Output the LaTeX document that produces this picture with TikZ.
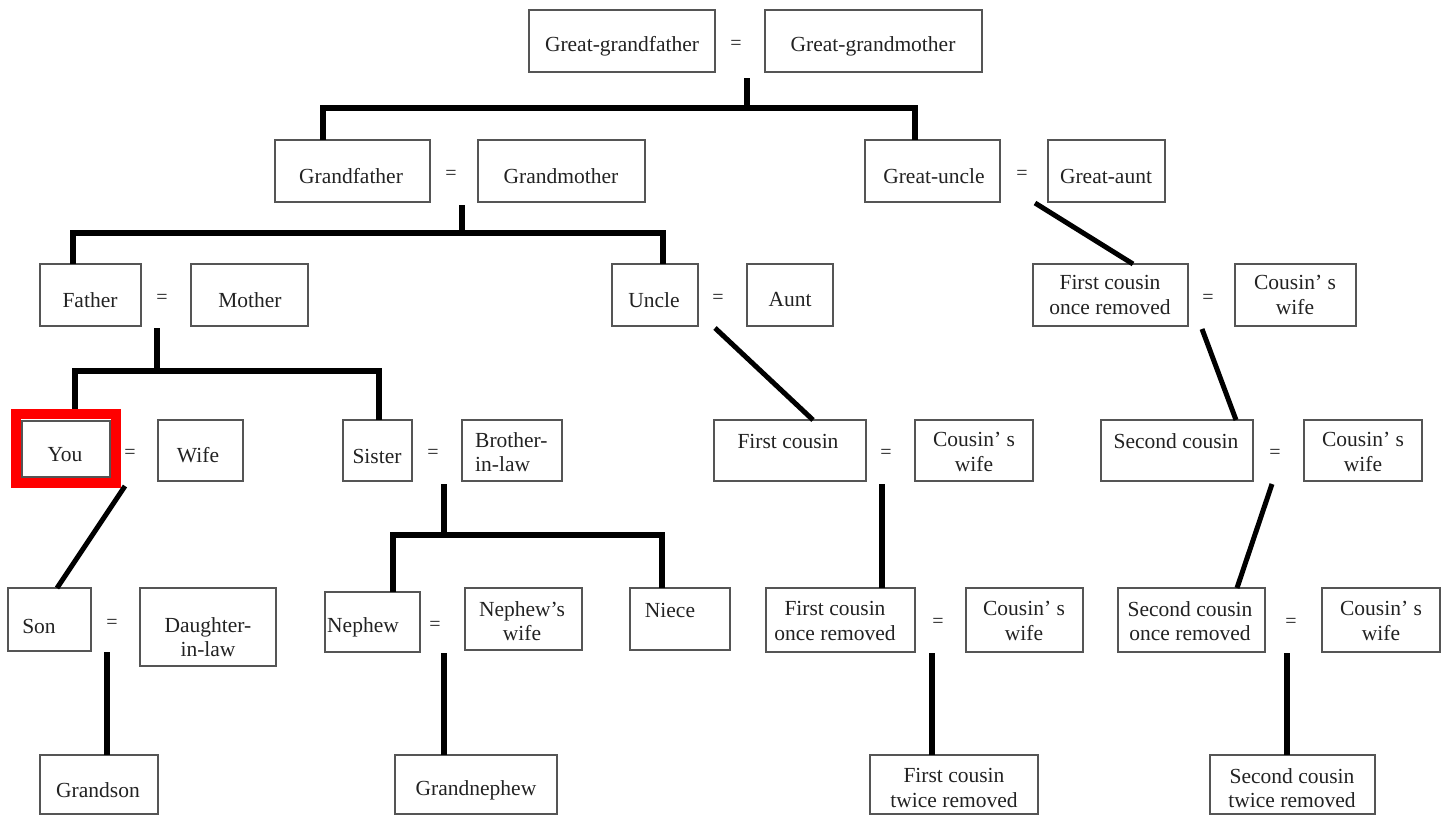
\documentclass[tikz,border=0pt]{standalone}
\usepackage{fontspec}
\setmainfont{Liberation Serif}
\definecolor{boxgray}{HTML}{555555}
\definecolor{txt}{HTML}{222222}
\tikzset{
  pbox/.style={draw=boxgray, line width=1.6pt, inner sep=0pt},
  ptext/.style={font=\fontsize{21.5}{24.5}\selectfont, text=txt, align=center, inner sep=0pt},
  eqs/.style={font=\fontsize{20}{24}\selectfont, text=txt, inner sep=0pt},
  tree/.style={line width=5.5pt, black, line join=miter},
  diag/.style={line width=5pt, black},
}
\newcommand\famb[9]{%
  \pgfmathsetmacro\bw{#5-#3}%
  \pgfmathsetmacro\bh{#6-#4}%
  \node[pbox, minimum width=\bw pt, minimum height=\bh pt] (#1) at ({(#3+#5)/2},{(#4+#6)/2}) {};%
  \node[ptext,#2] (#1-t) at (#7,#8) {#9};%
}
\begin{document}
\begin{tikzpicture}[x=1pt,y=-1pt]
\useasboundingbox (0,0) rectangle (1447,816);
% Row 1
\famb{ggf}{}{529}{10}{715}{72}{622}{46}{Great-grandfather}
\node[eqs] (e1) at (736,45) {=};
\famb{ggm}{}{765}{10}{982}{72}{873}{46}{Great-grandmother}
% Row 2
\famb{gf}{}{275}{140}{430}{202}{351}{176}{Grandfather}
\node[eqs] (e2) at (451,175) {=};
\famb{gm}{}{478}{140}{645}{202}{561}{176}{Grandmother}
\famb{gu}{}{865}{140}{1000}{202}{934}{176}{Great-uncle}
\node[eqs] (e3) at (1022,175) {=};
\famb{ga}{}{1048}{140}{1165}{202}{1106}{176}{Great-aunt}
% Row 3
\famb{fa}{}{40}{264}{141}{326}{90}{300}{Father}
\node[eqs] (e4) at (162,299) {=};
\famb{mo}{}{191}{264}{308}{326}{250}{300}{Mother}
\famb{un}{}{612}{264}{698}{326}{654}{300}{Uncle}
\node[eqs] (e5) at (718,299) {=};
\famb{au}{}{747}{264}{833}{326}{790}{300}{Aunt}
\famb{fcor1}{}{1033}{264}{1188}{326}{1110}{295}{First cousin\\once removed}
\node[eqs] (e6) at (1208,299) {=};
\famb{cw1}{}{1235}{264}{1356}{326}{1295}{295}{Cousin’ s\\wife}
% Row 4
\famb{you}{}{22}{421}{110}{477}{65}{455}{You}
\node[draw=red, line width=10pt, minimum width=100pt, minimum height=69pt, inner sep=0pt] (youframe) at (65.5,448.5) {};
\node[eqs] (e7) at (130,454) {=};
\famb{wife}{}{158}{420}{243}{481}{198}{455}{Wife}
\famb{sis}{}{343}{420}{412}{481}{377}{456}{Sister}
\node[eqs] (e8) at (433,454) {=};
\famb{bil}{anchor=west, align=left}{462}{420}{562}{481}{475}{452}{Brother-\\in-law}
\famb{fc}{}{714}{420}{866}{481}{788}{441}{First cousin}
\node[eqs] (e9) at (886,454) {=};
\famb{cw2}{}{915}{420}{1033}{481}{974}{452}{Cousin’ s\\wife}
\famb{sc}{}{1101}{420}{1253}{481}{1176}{441}{Second cousin}
\node[eqs] (e10) at (1275,454) {=};
\famb{cw3}{}{1304}{420}{1422}{481}{1363}{452}{Cousin’ s\\wife}
% Row 5
\famb{son}{}{8}{588}{91}{651}{39}{626}{Son}
\node[eqs] (e11) at (112,624) {=};
\famb{dil}{}{140}{588}{276}{666}{208}{637}{Daughter-\\in-law}
\famb{nep}{anchor=west}{325}{592}{420}{652}{327}{627}{Nephew}
\node[eqs] (e12) at (435,626) {=};
\famb{nw}{}{465}{588}{582}{650}{522}{621}{Nephew’s\\wife}
\famb{niece}{}{630}{588}{730}{650}{670}{610}{Niece}
\famb{fcor2}{}{766}{588}{915}{652}{835}{621}{First cousin\\once removed}
\node[eqs] (e13) at (938,623) {=};
\famb{cw4}{}{966}{588}{1083}{652}{1024}{621}{Cousin’ s\\wife}
\famb{scor}{}{1118}{588}{1265}{652}{1190}{621}{Second cousin\\once removed}
\node[eqs] (e14) at (1291,623) {=};
\famb{cw5}{}{1322}{588}{1440}{652}{1381}{621}{Cousin’ s\\wife}
% Row 6
\famb{gs}{}{40}{755}{158}{814}{98}{790}{Grandson}
\famb{gn}{}{395}{755}{557}{814}{476}{790}{Grandnephew}
\famb{fctr}{}{870}{755}{1038}{814}{954}{788}{First cousin\\twice removed}
\famb{sctr}{}{1210}{755}{1375}{814}{1292}{788}{Second cousin\\twice removed}
% attachment points
\coordinate (k1) at (747,78);   \coordinate (b1) at (747,108);
\coordinate (gf-in) at (323,140); \coordinate (gu-in) at (915,140);
\coordinate (k2) at (462,205);  \coordinate (b2) at (462,233);
\coordinate (fa-in) at (73,264); \coordinate (un-in) at (663,264);
\coordinate (k3) at (1035,203); \coordinate (fcor1-in) at (1133,264);
\coordinate (k4) at (157,328);  \coordinate (b4) at (157,371);
\coordinate (you-in) at (75,409); \coordinate (sis-in) at (379,420);
\coordinate (k5) at (715,328);  \coordinate (fc-in) at (813,420);
\coordinate (k6) at (1202,329); \coordinate (sc-in) at (1236,420);
\coordinate (k7) at (125,486);  \coordinate (son-in) at (57,588);
\coordinate (k8) at (444,484);  \coordinate (b8) at (444,535);
\coordinate (nep-in) at (393,592); \coordinate (niece-in) at (662,588);
\coordinate (k9) at (882,484);  \coordinate (fcor2-in) at (882,588);
\coordinate (k10) at (1272,484); \coordinate (scor-in) at (1237,588);
\coordinate (k11) at (107,652); \coordinate (gs-in) at (107,755);
\coordinate (k12) at (444,653); \coordinate (gn-in) at (444,755);
\coordinate (k13) at (932,653); \coordinate (fctr-in) at (932,755);
\coordinate (k14) at (1287,653); \coordinate (sctr-in) at (1287,755);
% connectors
\draw[tree] (k1) -- (b1);
\draw[tree] (gf-in) |- (b1) -| (gu-in);
\draw[tree] (k2) -- (b2);
\draw[tree] (fa-in) |- (b2) -| (un-in);
\draw[diag] (k3) -- (fcor1-in);
\draw[tree] (k4) -- (b4);
\draw[tree] (you-in) |- (b4) -| (sis-in);
\draw[diag] (k5) -- (fc-in);
\draw[diag] (k6) -- (sc-in);
\draw[diag] (k7) -- (son-in);
\draw[tree] (k8) -- (b8);
\draw[tree] (nep-in) |- (b8) -| (niece-in);
\draw[tree] (k9) -- (fcor2-in);
\draw[diag] (k10) -- (scor-in);
\draw[tree] (k11) -- (gs-in);
\draw[tree] (k12) -- (gn-in);
\draw[tree] (k13) -- (fctr-in);
\draw[tree] (k14) -- (sctr-in);
\end{tikzpicture}
\end{document}
